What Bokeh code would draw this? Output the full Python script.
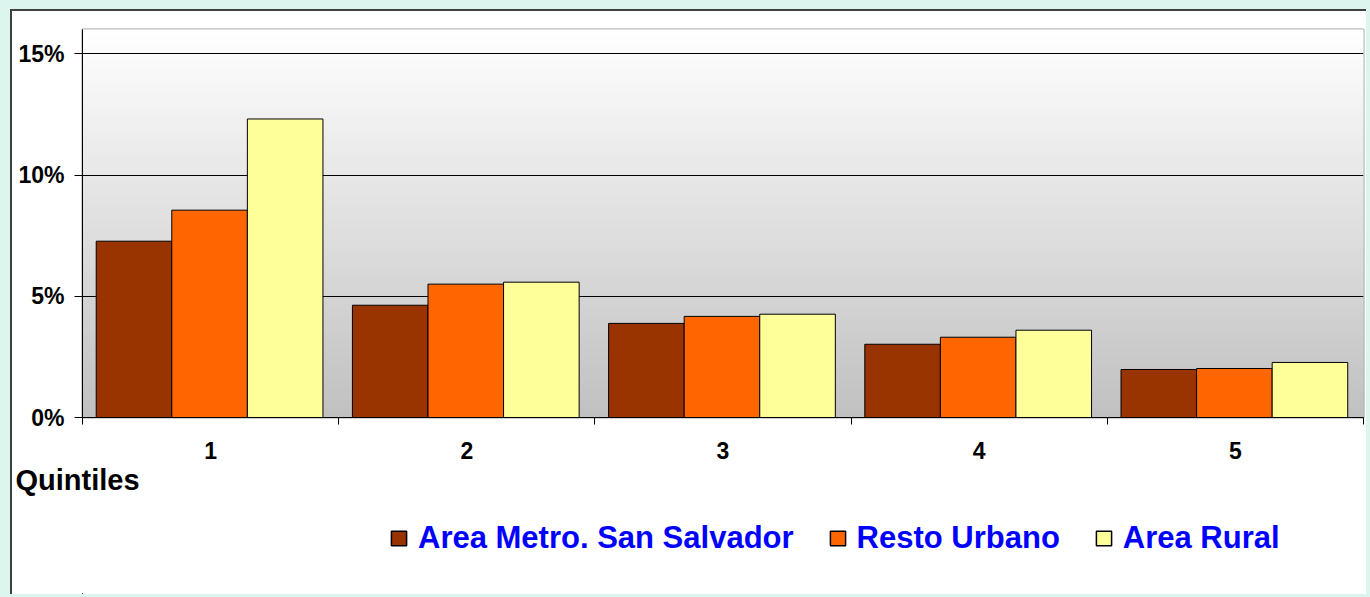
import numpy as np
from bokeh.plotting import figure
from bokeh.layouts import column
from bokeh.models import FixedTicker, NumeralTickFormatter, Legend, LegendItem, Title, Range1d
from bokeh.embed import file_html
from bokeh.resources import INLINE

# ---- data ----
quintiles = ["1", "2", "3", "4", "5"]
area_metro = [0.0727, 0.0463, 0.0388, 0.0302, 0.0198]
resto_urbano = [0.0855, 0.0550, 0.0417, 0.0331, 0.0202]
area_rural = [0.1231, 0.0558, 0.0426, 0.0360, 0.0227]
series_names = ["Area Metro. San Salvador", "Resto Urbano", "Area Rural"]
series_colors = ["#993300", "#ff6600", "#ffff99"]
y_ticks = [0.0, 0.05, 0.10, 0.15]
x_title = "Quintiles"

FONT = "Liberation Sans"
n_cat = len(quintiles)
y_max = 0.16
W = 1356
H1 = 500
H2 = 85
series = [area_metro, resto_urbano, area_rural]

p = figure(width=W, height=H1, output_backend="svg", toolbar_location=None,
           x_range=Range1d(0, n_cat), y_range=Range1d(0, y_max),
           min_border_left=70, min_border_top=18, min_border_right=5, min_border_bottom=H1 - 406,
           background_fill_color="white", border_fill_color="white",
           outline_line_color="#a0a0a0", outline_line_width=2)
p.styles = {"border-left": "2px solid #404040", "border-top": "2px solid #404040"}

# gradient background (white top -> gray bottom)
n_strips = 80
edges = np.linspace(0, y_max, n_strips + 1)
cols = []
for i in range(n_strips):
    t = (i + 0.5) / n_strips
    g = int(round(192 + (255 - 192) * t))
    cols.append("#%02x%02x%02x" % (g, g, g))
p.quad(left=0, right=n_cat, bottom=edges[:-1], top=edges[1:], fill_color=cols,
       line_color=cols, line_width=1, level="image")

# bars
bar_w = 0.295
centers = np.arange(n_cat) + 0.5 - 0.004
for k, (vals, col) in enumerate(zip(series, series_colors)):
    p.vbar(x=centers + (k - 1) * bar_w, top=vals, width=bar_w, bottom=0,
           fill_color=col, line_color="black", line_width=1)

# grid
p.xgrid.visible = False
p.ygrid.ticker = FixedTicker(ticks=y_ticks[1:])
p.ygrid.grid_line_color = "black"
p.ygrid.grid_line_width = 1

# y axis
ya = p.yaxis[0]
ya.ticker = FixedTicker(ticks=y_ticks)
ya.formatter = NumeralTickFormatter(format="0%")
ya.major_tick_out = 8
ya.major_tick_in = 0
ya.minor_tick_out = 0
ya.minor_tick_in = 0
ya.axis_line_color = "black"
ya.major_tick_line_color = "black"
ya.major_label_text_font = FONT
ya.major_label_text_font_style = "bold"
ya.major_label_text_font_size = "23px"
ya.major_label_text_color = "black"
ya.major_label_standoff = 10

# x axis
xa = p.xaxis[0]
tick_pos = [i + 0.5 for i in range(n_cat)]
xa.ticker = FixedTicker(ticks=tick_pos, minor_ticks=list(range(n_cat + 1)))
xa.major_label_overrides = {tp: q for tp, q in zip(tick_pos, quintiles)}
xa.major_tick_out = 0
xa.major_tick_in = 0
xa.minor_tick_out = 7
xa.minor_tick_in = 0
xa.minor_tick_line_color = "black"
xa.axis_line_color = "black"
xa.major_label_text_font = FONT
xa.major_label_text_font_style = "bold"
xa.major_label_text_font_size = "23px"
xa.major_label_text_color = "black"
xa.major_label_standoff = 17

# "Quintiles" as a left-aligned title below the axis
p.add_layout(Title(text=x_title, align="left", offset=-67, text_font=FONT,
                   text_font_style="bold", text_font_size="29px", text_color="black",
                   standoff=0), "below")

# legend figure (its renderers lie outside its visible range; only the legend shows)
p2 = figure(width=W, height=H2, output_backend="svg", toolbar_location=None,
            x_range=Range1d(100, 101), y_range=Range1d(100, 101),
            min_border_left=70, min_border_right=5, min_border_top=0, min_border_bottom=0,
            background_fill_alpha=0, border_fill_alpha=0, outline_line_color=None)
p2.axis.visible = False
p2.grid.visible = False
p2.styles = {"border-left": "2px solid #404040"}
leg_r = []
for vals, col in zip(series, series_colors):
    leg_r.append(p2.vbar(x=centers, top=vals, width=bar_w, fill_color=col,
                         line_color="black", line_width=1.5))

legend = Legend(items=[LegendItem(label=n, renderers=[r]) for n, r in zip(series_names, leg_r)],
                orientation="horizontal", location=(307, 38),
                label_text_font=FONT, label_text_font_style="bold", label_text_font_size="31px",
                label_text_color="#0000ff", glyph_width=19, glyph_height=18, label_standoff=10,
                spacing=34, padding=0, margin=0, border_line_alpha=0, background_fill_alpha=0)
p2.add_layout(legend)

layout = column(p, p2, spacing=0)
layout.styles = {"background-color": "white"}

html = file_html(layout, INLINE)
html = html.replace("</head>", "<style>html,body{margin:0;padding:0;} body{margin:9px 0 0 10px !important;background:#dcf5ef;overflow:hidden;}</style></head>")
open("out.html", "w").write(html)
